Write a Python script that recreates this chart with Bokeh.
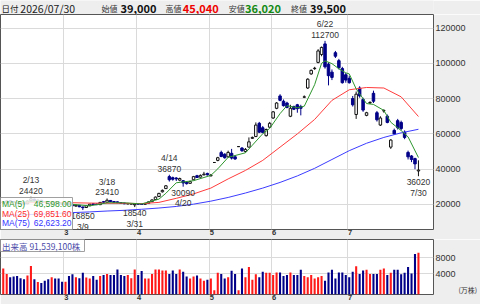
from bokeh.plotting import figure
from bokeh.layouts import column
from bokeh.models import Range1d, FixedTicker, ColumnDataSource, LinearAxis, BasicTickFormatter
from bokeh.core.properties import value
from bokeh.embed import file_html
from bokeh.resources import INLINE

# ---------------- data ----------------
YEAR = 2026
dates = ["2/2", "2/3", "2/4", "2/5", "2/6", "2/9", "2/10", "2/12", "2/13", "2/16", "2/17", "2/18", "2/19", "2/20", "2/24", "2/25", "2/26", "2/27",
         "3/2", "3/3", "3/4", "3/5", "3/6", "3/9", "3/10", "3/11", "3/12", "3/13", "3/16", "3/17", "3/18", "3/19", "3/23", "3/24", "3/25", "3/26", "3/27", "3/30", "3/31",
         "4/1", "4/2", "4/3", "4/6", "4/7", "4/8", "4/9", "4/10", "4/13", "4/14", "4/15", "4/16", "4/17", "4/20", "4/21", "4/22", "4/23", "4/24", "4/27", "4/28", "4/30",
         "5/1", "5/7", "5/8", "5/11", "5/12", "5/13", "5/14", "5/15", "5/18", "5/19", "5/20", "5/21", "5/22", "5/25", "5/26", "5/27", "5/28", "5/29",
         "6/1", "6/2", "6/3", "6/4", "6/5", "6/8", "6/9", "6/10", "6/11", "6/12", "6/15", "6/16", "6/17", "6/18", "6/19", "6/22", "6/23", "6/24", "6/25", "6/26", "6/29", "6/30",
         "7/1", "7/2", "7/3", "7/6", "7/7", "7/8", "7/9", "7/10", "7/13", "7/14", "7/15", "7/16", "7/17", "7/21", "7/22", "7/23", "7/24", "7/27", "7/28", "7/29", "7/30"]

opens = [20800, 21400, 22100, 21600, 21300, 21000, 20700, 20400, 22200, 23000, 21800, 22400, 21700, 21200, 20700, 21300, 20900, 20600,
         20100, 20600, 19900, 19100, 19500, 18600, 18300, 19300, 20400, 20300, 19900, 21600, 21300, 22300, 21700, 21500, 21100, 20800, 20300, 20200, 19800,
         20400, 20300, 20100, 20700, 21600, 22800, 24500, 27200, 29000, 35800, 35200, 35000, 33800, 33500, 32500, 32000, 34000, 36300, 35500, 36800, 37600,
         36200, 43800, 45000, 49500, 48500, 47000, 49000, 47000, 52800, 52000, 50000, 52500, 57500, 58500, 66000, 63500, 59000, 63800,
         69000, 74500, 81500, 78500, 77500, 70000, 75500, 76500, 75500, 80800, 86000, 94000, 97000, 100500, 105000, 111000, 99500, 95000, 106000, 101500, 97000, 93500,
         91500, 80000, 71000, 86000, 79500, 70500, 77500, 83000, 72000, 65000, 73000, 70000, 52500, 62000, 67500, 66500, 61000, 49500, 47500, 46000, 39000]
highs = [21900, 22300, 22400, 21900, 21500, 21300, 21000, 22300, 24420, 23300, 22800, 22600, 21900, 21400, 21500, 21500, 21100, 20800,
         20900, 20800, 20100, 19800, 19700, 18800, 19500, 20400, 20700, 20600, 21400, 22000, 23410, 22500, 21900, 21700, 21300, 21000, 20800, 20700, 20500,
         20600, 20500, 20800, 21700, 22800, 24500, 26600, 28500, 31000, 36870, 35800, 35500, 35200, 33800, 33000, 33500, 36200, 36800, 37000, 38500, 38000,
         37300, 43800, 47000, 50500, 49000, 50500, 51500, 48000, 52800, 52500, 52000, 58000, 58500, 66500, 66800, 64500, 63000, 66800,
         73000, 78000, 82500, 79500, 78200, 76500, 76000, 77000, 76500, 81800, 91500, 96500, 98000, 108000, 109500, 112700, 100500, 96500, 107000, 102500, 98000, 94500,
         93000, 81500, 84000, 87000, 80500, 72500, 78500, 84500, 73000, 70000, 74000, 71000, 57000, 63000, 68500, 67500, 62000, 50500, 48000, 46500, 45040]
lows = [20500, 21100, 21300, 20900, 20500, 20300, 20100, 20200, 22000, 21800, 21600, 21500, 20900, 20600, 20500, 20700, 20300, 20000,
        19900, 19700, 19100, 18800, 18500, 16850, 18100, 19200, 19800, 19700, 19800, 21000, 21100, 21400, 21000, 20800, 20400, 20200, 20100, 20000, 18540,
        19900, 19800, 20000, 20600, 21500, 22700, 24300, 26800, 28800, 33000, 33500, 33300, 33200, 30090, 31300, 31800, 33800, 35000, 35300, 36500, 36400,
        36000, 43800, 44500, 46800, 46000, 46500, 45500, 45300, 52800, 49800, 49500, 52300, 57200, 58200, 60500, 60300, 58500, 63500,
        68500, 74000, 78500, 75500, 74500, 69500, 73500, 72000, 70500, 80300, 85500, 93500, 96300, 100000, 104000, 97000, 87500, 90500, 103000, 96500, 88500, 89000,
        88500, 75500, 68500, 80500, 72500, 70000, 77000, 77500, 67000, 64500, 72000, 66000, 51500, 59500, 62500, 62000, 57000, 45500, 44000, 40000, 36020]
closes = [21600, 22000, 21500, 21100, 20700, 20500, 20300, 22000, 23200, 22100, 22500, 21700, 21100, 20800, 21300, 20900, 20500, 20200,
          20700, 19900, 19300, 19600, 18700, 18200, 19300, 20200, 20000, 19900, 21200, 21300, 22400, 21600, 21200, 21000, 20600, 20400, 20600, 20500, 20300,
          20200, 20000, 20600, 21500, 22600, 24200, 26300, 28000, 30600, 34000, 34300, 34500, 34700, 32200, 31800, 33000, 35800, 35300, 36500, 37200, 36800,
          36600, 43800, 46500, 47200, 46500, 49500, 46300, 45800, 52800, 50500, 51200, 55500, 58000, 65000, 61000, 60800, 62500, 66000,
          72500, 77500, 79000, 76000, 75000, 74500, 74000, 74300, 74500, 81000, 91000, 96000, 97200, 107000, 109000, 98000, 93000, 92000, 104000, 97500, 89000, 90500,
          89000, 76500, 82500, 81500, 73500, 72000, 77800, 78500, 68000, 69000, 73200, 66500, 56500, 60000, 63500, 63000, 58000, 47000, 45500, 43000, 39500]
# volume in 10k shares (万株)
volumes = [5340, 4000, 3220, 3370, 3530, 2980, 2750, 3610, 5960, 2750, 2040, 1800, 2350, 2750, 3220, 2900, 2900, 2120,
           2120, 3530, 3920, 3220, 2980, 4290, 3140, 2900, 3530, 2590, 3530, 3760, 4000, 3760, 3760, 5100, 3760, 3530, 3760, 2980, 5100,
           3760, 4700, 2900, 2900, 4000, 5100, 5100, 4860, 4860, 4000, 4860, 4000, 5100, 4550, 3370, 2900, 3370, 3610, 2900, 2350, 2590,
           2900, 80, 4290, 4000, 2900, 3220, 4780, 4000, 80,
           5340, 3220, 5720, 2590, 3920, 3220, 4550, 4290, 4290, 3760, 4370, 4370, 3530, 3760, 4370, 3760, 3760, 5020, 3530, 3220, 3760, 2900,
           3220, 3530, 2350, 4370, 5020, 2900, 4370, 4370, 3760, 3220, 4550, 5880, 4000, 4860, 5020, 4000, 4000, 4000, 5020, 5340, 3760, 4290,
           5020, 5020, 3920, 4290, 5720, 4140, 8870, 9153.91]

ma5_idx = [0, 5, 10, 15, 20, 25, 30, 35, 40, 45, 47, 50, 55, 60, 62, 65, 70, 72, 75, 77, 80, 82, 85, 87, 90, 92, 93, 95, 97, 99,
           100, 102, 105, 107, 110, 112, 115, 117, 120]
ma5_vals = [21200, 21160, 22020, 21160, 20120, 19200, 20960, 20960, 20320, 23040, 26340, 32300, 33500, 36500, 40200, 46700, 49300, 53600,
            60100, 63100, 71500, 76000, 74800, 75700, 87900, 100000, 101400, 99800, 96900, 94600, 94000, 85500, 77200, 76700, 73300,
            66600, 61900, 58300, 46598.00]
ma25_idx = list(range(0, 121, 5))
ma25_vals = [20900, 21000, 21100, 21200, 21000, 20800, 20700, 20700, 20500, 21200, 23500, 26000, 29300, 34500, 39300, 45000, 52500,
             60000, 68200, 79000, 85000, 86300, 86000, 81000, 69851.60]
ma75_idx = list(range(0, 121, 5))
ma75_vals = [13600, 14100, 14500, 14900, 15400, 15800, 16300, 16700, 17300, 18000, 18900, 20200, 21900, 24000, 26500, 29300, 32500,
             36200, 40500, 45500, 50500, 54700, 58000, 60600, 62623.20]

peak_dates = ["2/13", "3/18", "4/14", "6/22"]
trough_dates = ["3/9", "3/31", "4/20", "7/30"]
price_ticks = [20000, 40000, 60000, 80000, 100000, 120000]
vol_ticks = [4000, 8000]
vol_unit = "(万株)"

# ---------------- layout / style ----------------
W = 480
FRAME_W = 433
RIGHT_W = W - FRAME_W
HDR_H = 14
MAIN_H = 215
AXIS_H = 10
VOL_H = 55
PX_PER_DAY = 3.46
X_START = -0.795
PRICE_LO, PRICE_HI = 5835, 127650
VOL_LO, VOL_HI = -970, 12364

BG = "#eeeeee"
GRID = "#dadada"
FONT = "Liberation Sans"
JFONT = "Noto Sans CJK JP"
NAVY = "#000088"
UPRED = "#ff1a1a"

n = len(dates)
idx = list(range(n))
x_range = Range1d(X_START, X_START + FRAME_W / PX_PER_DAY)


def month(d):
    return int(d.split("/")[0])


bounds, blabels = [], []
for i in range(1, n):
    if month(dates[i]) != month(dates[i - 1]):
        bounds.append(i - 0.5)
        blabels.append(str(month(dates[i])))
label_pos = [b + 0.75 for b in bounds]
overrides = {lp: lb for lp, lb in zip(label_pos, blabels)}

up = [c >= o for o, c in zip(opens, closes)]

# ---------------- header ----------------
hdr = figure(width=W, height=HDR_H, x_range=Range1d(0, W), y_range=Range1d(HDR_H, 0),
             toolbar_location=None, output_backend="svg", x_axis_location=None, y_axis_location=None,
             min_border=0)
hdr.grid.visible = False
hdr.outline_line_color = None
hdr.background_fill_color = BG
hdr.border_fill_color = BG

lm, ld = dates[-1].split("/")
hdr_items = [
    (1, "日付", "normal", "#222222", "8.5px"),
    (22, f"{YEAR}/{int(lm):02d}/{int(ld):02d}", "normal", "#222222", "10.5px"),
    (112, "始値", "normal", "#333333", "8px"),
    (133, f"{opens[-1]:,}", "bold", "#111111", "11px"),
    (183, "高値", "normal", "#333333", "8px"),
    (202, f"{highs[-1]:,}", "bold", "#ee0000", "11px"),
    (253, "安値", "normal", "#333333", "8px"),
    (271, f"{lows[-1]:,}", "bold", "#138a13", "11px"),
    (322, "終値", "normal", "#333333", "8px"),
    (343, f"{closes[-1]:,}", "bold", "#111111", "11px"),
]
for hx, ht, hw, hc, hs in hdr_items:
    hdr.text(x=[hx], y=[7.5], text=[ht], text_font=value(JFONT), text_font_style=hw,
             text_color=hc, text_font_size=hs, text_baseline="middle", text_align="left")

# ---------------- main price chart ----------------
p = figure(frame_width=FRAME_W, frame_height=MAIN_H, x_range=x_range, y_range=Range1d(PRICE_LO, PRICE_HI),
           toolbar_location=None, output_backend="svg", y_axis_location="right",
           min_border_left=0, min_border_top=0, min_border_right=RIGHT_W, min_border_bottom=AXIS_H)
p.background_fill_color = "white"
p.border_fill_color = BG
p.outline_line_color = "#555555"


def style_axes(fig, yticks):
    fig.yaxis.ticker = FixedTicker(ticks=yticks)
    fig.yaxis.formatter = BasicTickFormatter(use_scientific=False)
    fig.yaxis.major_tick_line_color = None
    fig.yaxis.minor_tick_line_color = None
    fig.yaxis.major_tick_out = 0
    fig.yaxis.major_tick_in = 0
    fig.yaxis.minor_tick_out = 0
    fig.yaxis.axis_line_color = None
    fig.yaxis.major_label_standoff = 2
    fig.yaxis.major_label_text_font = FONT
    fig.yaxis.major_label_text_font_size = "9px"
    fig.yaxis.major_label_text_color = "#333333"
    fig.xaxis.ticker = FixedTicker(ticks=label_pos)
    fig.xaxis.major_label_overrides = overrides
    fig.xaxis.major_tick_line_color = None
    fig.xaxis.minor_tick_line_color = None
    fig.xaxis.axis_line_color = None
    fig.xaxis.major_tick_out = 0
    fig.xaxis.major_tick_in = 0
    fig.xaxis.minor_tick_out = 0
    fig.xaxis.major_label_standoff = 0
    fig.xaxis.major_label_text_font = FONT
    fig.xaxis.major_label_text_font_size = "7.5px"
    fig.xaxis.major_label_text_font_style = "bold"
    fig.xaxis.major_label_text_color = "#333333"
    fig.ygrid.ticker = FixedTicker(ticks=yticks)
    fig.xgrid.ticker = FixedTicker(ticks=bounds)
    fig.grid.grid_line_color = GRID


style_axes(p, price_ticks)

src = ColumnDataSource(dict(
    i=idx, o=opens, h=highs, l=lows, c=closes,
    top=[max(o, c) for o, c in zip(opens, closes)],
    bot=[min(o, c) for o, c in zip(opens, closes)],
    fill=["white" if u else NAVY for u in up],
    line=["#111111" if u else NAVY for u in up],
))
p.segment(x0="i", y0="h", x1="i", y1="l", line_color="line", line_width=1, source=src)
p.vbar(x="i", width=0.72, top="top", bottom="bot", fill_color="fill", line_color="line", line_width=1, source=src)

p.line(ma75_idx, ma75_vals, line_color="#3c3cff", line_width=1)
p.line(ma25_idx, ma25_vals, line_color="#ff3c3c", line_width=1)
p.line(ma5_idx, ma5_vals, line_color="#2e962e", line_width=1)

# high / low annotations
for d in peak_dates:
    k = dates.index(d)
    p.text(x=[k], y=[highs[k]], text=[f"{d}\n{highs[k]}"], text_font=value(FONT), text_font_size="8.5px",
           text_color="#333333", text_align="center", text_baseline="bottom", y_offset=-1, text_line_height=1.05)
for d in trough_dates:
    k = dates.index(d)
    p.text(x=[k], y=[lows[k]], text=[f"{lows[k]}\n{d}"], text_font=value(FONT), text_font_size="8.5px",
           text_color="#333333", text_align="center", text_baseline="top", y_offset=1, text_line_height=1.05)

# moving-average legend box (bottom-left)
ppy = (PRICE_HI - PRICE_LO) / MAIN_H


def fx(px):
    return X_START + px / PX_PER_DAY


def fy(px):
    return PRICE_LO + px * ppy


p.quad(left=[fx(0)], right=[fx(72)], bottom=[fy(0)], top=[fy(32)], fill_color="white", fill_alpha=0.82,
       line_color="#a0a0a0", line_width=1)
leg = [("MA(5)", ma5_vals[-1], "#2e962e", 25.5),
       ("MA(25)", ma25_vals[-1], "#ff2a2a", 16),
       ("MA(75)", ma75_vals[-1], "#3434ff", 6.5)]
for name, v, col, py in leg:
    p.text(x=[fx(1.5)], y=[fy(py)], text=[name], text_font=value(FONT), text_font_size="8.5px",
           text_color=col, text_align="left", text_baseline="middle")
    p.text(x=[fx(71)], y=[fy(py)], text=[f"{v:,.2f}"], text_font=value(FONT), text_font_size="8.5px",
           text_color=col, text_align="right", text_baseline="middle")

# ---------------- volume chart ----------------
pv = figure(frame_width=FRAME_W, frame_height=VOL_H, x_range=x_range, y_range=Range1d(VOL_LO, VOL_HI),
            toolbar_location=None, output_backend="svg", y_axis_location="right",
            min_border_left=0, min_border_top=0, min_border_right=RIGHT_W, min_border_bottom=AXIS_H)
pv.background_fill_color = "white"
pv.border_fill_color = BG
pv.outline_line_color = "#555555"
style_axes(pv, vol_ticks)

# unit caption as a second right-hand axis with a single labelled tick near the bottom
vpy = (VOL_HI - VOL_LO) / VOL_H
unit_pos = VOL_LO + 5 * vpy
unit_axis = LinearAxis(ticker=FixedTicker(ticks=[unit_pos]), major_label_overrides={unit_pos: vol_unit},
                       major_tick_line_color=None, minor_tick_line_color=None, axis_line_color=None,
                       major_tick_out=0, major_tick_in=0, minor_tick_out=0,
                       major_label_standoff=0, major_label_text_font=JFONT, major_label_text_font_size="7px",
                       major_label_text_color="#333333")
pv.add_layout(unit_axis, "right")

vsrc = ColumnDataSource(dict(i=idx, v=volumes, col=[UPRED if u else NAVY for u in up]))
pv.vbar(x="i", width=0.6, top="v", bottom=VOL_LO, fill_color="col", line_color=None, source=vsrc)

pv.quad(left=[fx(0)], right=[fx(84)], bottom=[VOL_HI - 12 * vpy], top=[VOL_HI], fill_color="white",
        fill_alpha=0.9, line_color="#a0a0a0")
pv.text(x=[fx(1.5)], y=[VOL_HI - 6 * vpy], text=[f"出来高  {round(volumes[-1] * 10000):,}株"],
        text_font=value(JFONT), text_font_size="8.5px", text_color="#4a4aa8", text_align="left",
        text_baseline="middle")

layout = column(hdr, p, pv, spacing=0)
open("out.html", "w").write(file_html(layout, INLINE))
